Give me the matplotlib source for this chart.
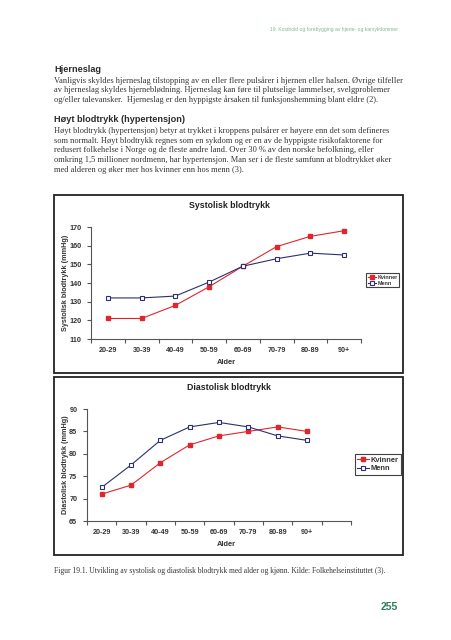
import matplotlib
matplotlib.use("Agg")
import matplotlib.pyplot as plt
from matplotlib.patches import Rectangle

# data
ages = ["20-29", "30-39", "40-49", "50-59", "60-69", "70-79", "80-89", "90+"]
sys_kvinner = [121, 121, 128, 138, 149, 159.5, 165, 168]
sys_menn = [132, 132, 133, 140.5, 149, 153, 156, 155]
dia_kvinner = [71, 73, 78, 82, 84, 85, 86, 85]
dia_menn = [72.5, 77.5, 83, 86, 87, 86, 84, 83]
sys_ticks = [110, 120, 130, 140, 150, 160, 170]
dia_ticks = [65, 70, 75, 80, 85, 90]

header = "19. Kosthold og forebygging av hjerte- og karsykdommer"
para1 = [
    "Vanligvis skyldes hjerneslag tilstopping av en eller flere pulsårer i hjernen eller halsen. Øvrige tilfeller",
    "av hjerneslag skyldes hjerneblødning. Hjerneslag kan føre til plutselige lammelser, svelgproblemer",
    "og/eller talevansker.  Hjerneslag er den hyppigste årsaken til funksjonshemming blant eldre (2).",
]
para2 = [
    "Høyt blodtrykk (hypertensjon) betyr at trykket i kroppens pulsårer er høyere enn det som defineres",
    "som normalt. Høyt blodtrykk regnes som en sykdom og er en av de hyppigste risikofaktorene for",
    "redusert folkehelse i Norge og de fleste andre land. Over 30 % av den norske befolkning, eller",
    "omkring 1,5 millioner nordmenn, har hypertensjon. Man ser i de fleste samfunn at blodtrykket øker",
    "med alderen og øker mer hos kvinner enn hos menn (3).",
]
caption = ("Figur 19.1. Utvikling av systolisk og diastolisk blodtrykk med alder og kjønn. "
           "Kilde: Folkehelseinstituttet (3).")

W, H = 452, 640
RED = "#e0262c"
NAVY = "#2a3072"
GRAY = "#333333"
SANS = ["Liberation Sans", "DejaVu Sans"]
SERIF = ["Liberation Serif", "DejaVu Serif"]

fig = plt.figure(figsize=(W / 100, H / 100), dpi=100)
fig.patch.set_facecolor("white")


def ftext(x, y, s, **kw):
    return fig.text(x / W, 1 - y / H, s, **kw)


def rect(l, t, r, b):
    return [l / W, 1 - b / H, (r - l) / W, (b - t) / H]


# page text
ftext(398, 30, header, ha="right", va="center", fontsize=3.6, color="#7dbb95", family=SANS)
ftext(54, 70, "Hjerneslag", ha="left", va="center", fontsize=6.6, fontweight="bold",
      color="#2b2b2b", family=SANS)
for i, line in enumerate(para1):
    ftext(54, 80.5 + i * 9.7, line, ha="left", va="center", fontsize=6.0, color=GRAY, family=SERIF)
ftext(54, 120, "Høyt blodtrykk (hypertensjon)", ha="left", va="center", fontsize=6.6,
      fontweight="bold", color="#2b2b2b", family=SANS)
for i, line in enumerate(para2):
    ftext(54, 131 + i * 9.7, line, ha="left", va="center", fontsize=6.0, color=GRAY, family=SERIF)
ftext(54, 571, caption, ha="left", va="center", fontsize=5.45, color=GRAY, family=SERIF)
ftext(398, 607, "255", ha="right", va="center", fontsize=7.5, fontweight="bold",
      color="#2e7d5b", family=SANS)

# frames around the two charts
for t, b in [(195, 373), (377, 555)]:
    fig.patches.append(Rectangle((54 / W, 1 - b / H), (403 - 54) / W, (b - t) / H,
                                 transform=fig.transFigure, fill=False,
                                 edgecolor="#222222", linewidth=1.3))


def chart(pos, kv, me, ticks, nslots, title, ylabel, title_y, xlab_y, leg_xy, leg_fs, ms):
    ax = fig.add_axes(rect(*pos))
    x = list(range(len(ages)))
    ax.plot(x, kv, color=RED, lw=0.8, marker="s", ms=ms, mfc=RED, mec=RED, label="Kvinner")
    ax.plot(x, me, color=NAVY, lw=0.8, marker="s", ms=ms, mfc="white", mec=NAVY,
            mew=0.8, label="Menn")
    ax.set_xlim(-0.5, nslots - 0.5)
    ax.set_ylim(ticks[0], ticks[-1])
    ax.set_yticks(ticks)
    ax.set_xticks(x)
    ax.set_xticklabels(ages)
    ax.set_xticks([i - 0.5 for i in range(nslots + 1)], minor=True)
    ax.tick_params(axis="x", which="major", length=0, pad=6)
    ax.tick_params(axis="x", which="minor", length=3, width=0.8, color="#555555")
    ax.tick_params(axis="y", length=3, width=0.8, color="#555555", pad=4)
    for lab in ax.get_xticklabels() + ax.get_yticklabels():
        lab.set_fontsize(5.2)
        lab.set_fontweight("bold")
        lab.set_color(GRAY)
        lab.set_family(SANS)
    for s in ["top", "right"]:
        ax.spines[s].set_visible(False)
    for s in ["left", "bottom"]:
        ax.spines[s].set_color("#555555")
        ax.spines[s].set_linewidth(0.8)
    ax.set_facecolor("none")
    ftext(229, title_y, title, ha="center", va="center", fontsize=6.3, fontweight="bold",
          color="#222222", family=SANS)
    ftext(226, xlab_y, "Alder", ha="center", va="center", fontsize=5.4, fontweight="bold",
          color=GRAY, family=SANS)
    ftext(65.5, (pos[1] + pos[3]) / 2, ylabel, ha="center", va="center", rotation=90,
          fontsize=5.2, fontweight="bold", color=GRAY, family=SANS)
    leg = ax.legend(loc="upper left", bbox_to_anchor=(leg_xy[0] / W, 1 - leg_xy[1] / H),
                    bbox_transform=fig.transFigure, frameon=True, fancybox=False,
                    edgecolor="#111111", handlelength=1.6, handletextpad=0.2,
                    borderpad=0.3, labelspacing=0.2, borderaxespad=0,
                    prop={"family": SANS, "size": leg_fs, "weight": "bold"})
    leg.get_frame().set_linewidth(0.8)
    for t in leg.get_texts():
        t.set_color(GRAY)
    return ax


chart((91, 227, 361, 339), sys_kvinner, sys_menn, sys_ticks, 8,
      "Systolisk blodtrykk", "Systolisk blodtrykk (mmHg)", 206, 363, (366, 273), 3.9, 3.3)
chart((87, 409, 351, 521), dia_kvinner, dia_menn, dia_ticks, 9,
      "Diastolisk blodtrykk", "Diastolisk blodtrykk (mmHg)", 388, 544, (355, 454), 5.4, 3.5)

fig.savefig("out.png", dpi=100, facecolor="white")
